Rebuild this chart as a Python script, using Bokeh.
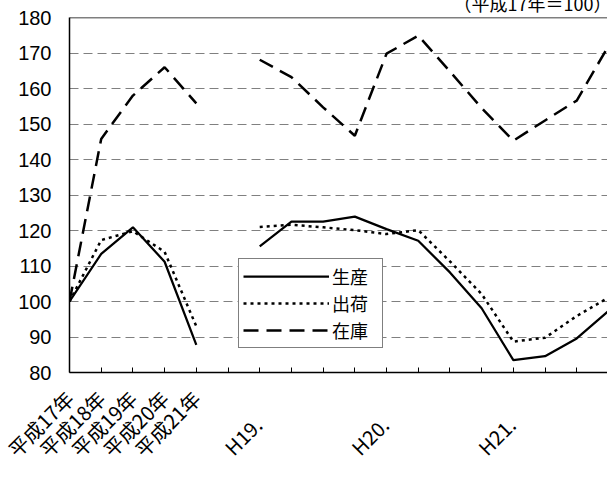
import math
from bokeh.plotting import figure
from bokeh.models import (Range1d, FixedTicker, Legend, LegendItem, Title, Span,
                          ColumnDataSource)
from bokeh.embed import file_html
from bokeh.resources import INLINE

nan = float("nan")

# categories (index positions) and their tick labels
cat_labels = ["平成17年", "平成18年", "平成19年", "平成20年", "平成21年", "",
              "H19.", "", "", "", "H20.", "", "", "", "H21.", "", "", ""]
cat_index = list(range(len(cat_labels)))

production = [100, 113.4, 120.9, 111.2, 87.8, nan,
              115.5, 122.5, 122.5, 123.9, 120.4, 117.1, 108.2, 98.1, 83.5, 84.6, 89.6, 97.3]
shipments = [100, 117.3, 119.8, 114.0, 93.0, nan,
             121.0, 121.6, 120.9, 120.1, 119.0, 120.1, 111.3, 102.1, 88.7, 89.8, 95.9, 101.1]
inventory = [100, 145.8, 158.0, 166.0, 155.8, nan,
             168.1, 163.2, 154.7, 146.7, 169.8, 174.9, 164.8, 154.5, 145.3, 151.0, 156.6, 172.0]

series_names = ["生産", "出荷", "在庫"]
y_ticks = list(range(80, 181, 10))
grid_ticks = list(range(90, 171, 10))
note = "（平成17年＝100）"

src = ColumnDataSource(dict(x=cat_index, prod=production, ship=shipments, inv=inventory))

ymin, ymax = 80, 180
p = figure(width=607, height=500, output_backend="svg", toolbar_location=None,
           x_range=Range1d(0, 16.97), y_range=Range1d(ymin, ymax),
           min_border_left=69, min_border_right=0, min_border_top=30, min_border_bottom=110)
p.styles = {"margin-top": "-14px"}
p.outline_line_color = None
p.background_fill_color = "white"
p.border_fill_color = "white"

def tick_text(lab):
    # period labels sit lower / further back along the rotated baseline
    if lab.startswith("H"):
        return "\n" + lab + "\u3000"
    return lab

p.xaxis.ticker = FixedTicker(ticks=cat_index)
p.xaxis.major_label_overrides = {i: tick_text(lab) for i, lab in zip(cat_index, cat_labels)}
p.xaxis.major_label_orientation = math.pi / 4
p.xaxis.major_label_text_font = "Noto Sans CJK JP"
p.xaxis.major_label_text_font_size = "20px"
p.xaxis.major_label_text_color = "black"
p.xaxis.major_label_standoff = 22
p.xaxis.major_tick_in = 5
p.xaxis.major_tick_out = 0
p.xaxis.major_tick_line_color = "black"
p.xaxis.minor_tick_line_color = None
p.xaxis.axis_line_color = "black"
p.xaxis.axis_line_width = 1.5

p.yaxis.ticker = FixedTicker(ticks=y_ticks)
p.yaxis.major_label_text_font = "Liberation Sans"
p.yaxis.major_label_text_font_size = "20px"
p.yaxis.major_label_text_color = "black"
p.yaxis.major_label_standoff = 18
p.yaxis.major_tick_in = 0
p.yaxis.major_tick_out = 0
p.yaxis.major_tick_line_color = None
p.yaxis.minor_tick_line_color = None
p.yaxis.axis_line_color = "black"
p.yaxis.axis_line_width = 1.5

p.xgrid.grid_line_color = None
p.ygrid.ticker = FixedTicker(ticks=grid_ticks)
p.ygrid.grid_line_color = "#808080"
p.ygrid.grid_line_dash = "9 5"
p.ygrid.grid_line_width = 1

p.add_layout(Span(location=ymax, dimension="width", line_color="black", line_width=1.5))

r1 = p.line("x", "prod", source=src, line_color="black", line_width=2.25)
r2 = p.line("x", "ship", source=src, line_color="black", line_width=2.5, line_dash="3 4")
r3 = p.line("x", "inv", source=src, line_color="black", line_width=2.5, line_dash="15 8")

legend = Legend(items=[LegendItem(label=series_names[0], renderers=[r1]),
                       LegendItem(label=series_names[1], renderers=[r2]),
                       LegendItem(label=series_names[2], renderers=[r3])],
                location=(169, 24), orientation="vertical",
                label_text_font="Noto Sans CJK JP", label_text_font_size="18px",
                label_text_color="black",
                glyph_width=86, glyph_height=20, label_height=20, label_standoff=3,
                label_width=46,
                spacing=1, padding=4, margin=0,
                border_line_color="black", border_line_width=1,
                background_fill_color="white", background_fill_alpha=1)
p.add_layout(legend, "center")

p.add_layout(Title(text=note, align="right", offset=-4, standoff=3,
                   text_font="Noto Sans CJK JP", text_font_size="18px",
                   text_font_style="normal", text_color="black",
                   text_line_height=0.5), "above")

open("out.html", "w").write(file_html(p, INLINE))
